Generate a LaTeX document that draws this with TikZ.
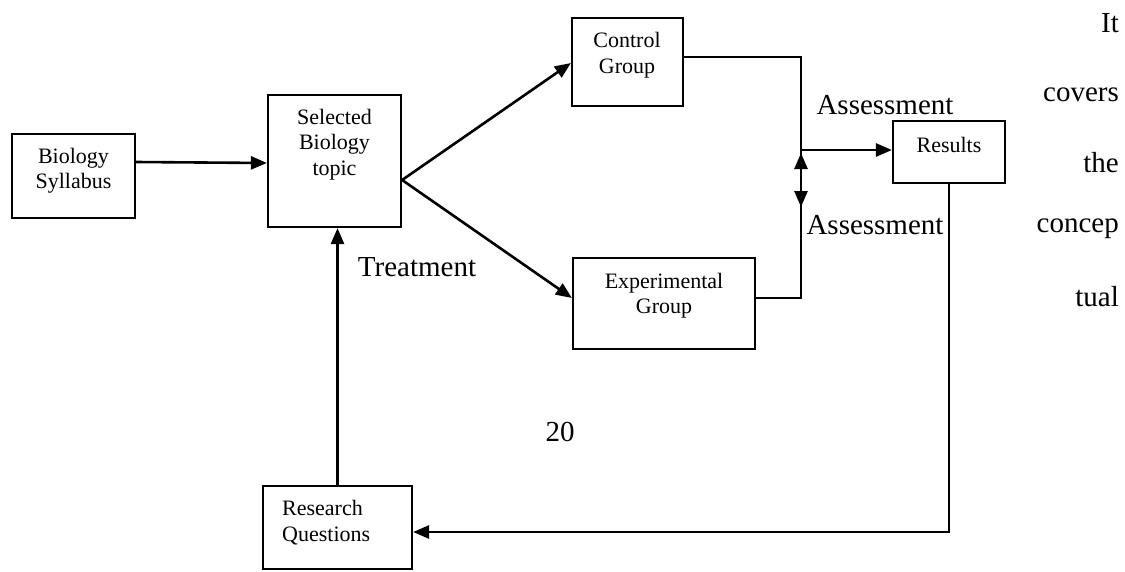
\documentclass[tikz,border=0pt]{standalone}
\usepackage{fontspec}
\setmainfont{Liberation Serif}
\usetikzlibrary{arrows.meta}
\tikzset{
  box/.style={draw, line width=2.2pt, inner sep=0pt},
  txt/.style={inner sep=0pt, align=center, font=\fontsize{22}{25.5}\selectfont},
  big/.style={inner sep=0pt, font=\fontsize{29}{33}\selectfont},
  arr/.style={line width=2.6pt, -{Triangle[length=16pt,width=13pt]}},
  arrboth/.style={line width=2.6pt, {Triangle[length=16pt,width=13pt]}-{Triangle[length=16pt,width=13pt]}},
  ln/.style={line width=2.4pt}
}
\begin{document}
\begin{tikzpicture}[x=1pt,y=-1pt]
\useasboundingbox (0,0) rectangle (1125,571);
% boxes
\node[box, minimum width=123, minimum height=84] (syl) at (73.5,176) {};
\node[txt] (sylt) at (73.5,170.5) {Biology\\Syllabus};
\node[box, minimum width=133, minimum height=132] (sel) at (334.5,161) {};
\node[txt] (selt) at (334.5,144.5) {Selected\\Biology\\topic};
\node[box, minimum width=111, minimum height=88] (ctrl) at (627.5,62) {};
\node[txt] (ctrlt) at (627,55) {Control\\Group};
\node[box, minimum width=182, minimum height=91] (exp) at (664,303.5) {};
\node[txt] (expt) at (664,295.5) {Experimental\\Group};
\node[box, minimum width=112, minimum height=62] (res) at (949,152) {};
\node[txt] (rest) at (949,145) {Results};
\node[box, minimum width=149, minimum height=83] (rq) at (337.5,527.5) {};
\node[txt, align=left, anchor=west] (rqt) at (282,522.5) {Research\\Questions};
% junctions
\coordinate (j1) at (801,57);
\coordinate (j2) at (801,298);
\coordinate (j3) at (801,150);
\coordinate (d1) at (801,153);
\coordinate (d2) at (801,207);
% connectors
\draw[arr] ([yshift=14pt]syl.east) -- ([yshift=-2pt]sel.west);
\draw[arr] ([yshift=-19pt]sel.east) -- ([yshift=-1pt]ctrl.west);
\draw[arr] ([yshift=-19pt]sel.east) -- ([yshift=5.5pt]exp.west);
\draw[ln] ([yshift=5pt]ctrl.east) -- (j1) -- (j2) -- ([yshift=5.5pt]exp.east);
\draw[arr] (j3) -- ([yshift=2pt]res.west);
\draw[arrboth] (d1) -- (d2);
\draw[arr] (res.south) |- ([yshift=-4.5pt]rq.east);
\draw[arr] (rq.north) -- (rq.north |- sel.south);
% labels
\node[big] (as1) at (885,105) {Assessment};
\node[big] (as2) at (875,225) {Assessment};
\node[big] (treat) at (417,267) {Treatment};
\node[big] (pg) at (560,432) {20};
\node[big, anchor=east] (w1) at (1119,23) {It};
\node[big, anchor=east] (w2) at (1119,95) {covers};
\node[big, anchor=east] (w3) at (1119,163) {the};
\node[big, anchor=east] (w4) at (1119,229) {concep};
\node[big, anchor=east] (w5) at (1119,297) {tual};
\end{tikzpicture}
\end{document}
